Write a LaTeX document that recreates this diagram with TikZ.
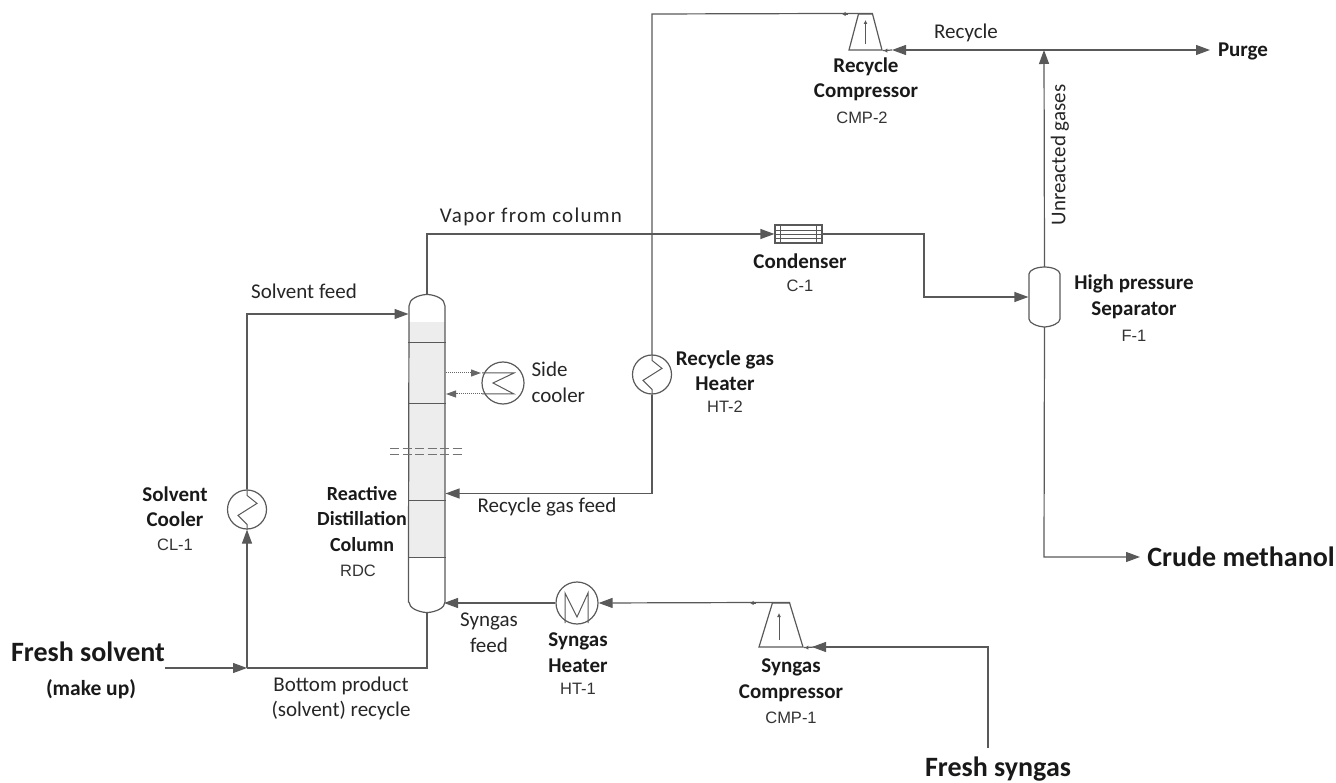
\documentclass[tikz,border=0pt]{standalone}
\usepackage{fontspec}
\setmainfont{Carlito}
\newfontfamily\tagfont{Liberation Sans}
\usetikzlibrary{arrows.meta,shapes.geometric}
\begin{document}
\begin{tikzpicture}[x=1pt,y=-1pt,line width=1.2pt,
lab/.style={font=\fontsize{21}{25.5}\selectfont,align=center,inner sep=0pt,text=black!85},
unit/.style={font=\fontsize{21}{25.5}\selectfont\bfseries,align=center,inner sep=0pt,text=black!90},
tag/.style={font=\tagfont\fontsize{16.5}{20}\selectfont,inner sep=0pt,text=black!80},
big/.style={font=\fontsize{28}{30}\selectfont\bfseries,inner sep=0pt,text=black!90},
hx/.style={draw=black!65,circle,minimum size=39pt,inner sep=0pt},
cmp/.style={draw=black!65,trapezium,trapezium stretches=true,inner sep=1pt},
coil/.style={draw=black!65,line width=1pt},
pipe/.style={draw=black!65},
arr/.style={pipe,-{Triangle[length=14pt,width=10pt]}},
side/.style={draw=black!60,densely dotted,line width=1pt,-{Triangle[length=10pt,width=7pt]}},
nib/.style={draw=black!65,-{Latex[length=3.5pt,width=4.5pt]}}]
\useasboundingbox (0,0) rectangle (1336,783);
% column
\node[minimum width=36pt,minimum height=317pt,inner sep=0pt] (rdc) at (427,453.5) {};
\fill[black!7] (409,322) rectangle (445,557);
\draw[pipe] (rdc.south west) ++(0,-10) -- (409,306) .. controls (409,299) and (418,295) .. (rdc.north) .. controls (436,295) and (445,299) .. (445,306) -- (445,602) .. controls (445,608) and (436,612) .. (rdc.south) .. controls (418,612) and (409,608) .. (409,602);
\foreach \trayy in {343,404,500,557} \draw[pipe,line width=1pt] (408,\trayy) -- (446,\trayy);
\foreach \cuty in {448,454} \draw[black!55,dash pattern=on 9pt off 3.5pt,line width=1pt] (390,\cuty) -- (464,\cuty);
% equipment
\node[hx,minimum size=42pt] (sc) at (503,383) {};
\node[hx] (ht2) at (652,374.5) {};
\node[hx] (cl1) at (247,509.5) {};
\node[hx,minimum size=42pt] (ht1) at (577,603) {};
\node[cmp,minimum width=33pt,minimum height=36pt,trapezium angle=56] (cmp2) at (865.5,32) {};
\node[cmp,minimum width=44pt,minimum height=44pt,trapezium angle=52] (cmp1) at (781,625) {};
\node[draw=black!65,minimum width=47pt,minimum height=18pt,inner sep=0pt] (c1) at (798.5,234) {};
\foreach \tubey in {-4,0,4} \draw[coil,line width=.7pt] ([yshift=\tubey]c1.west) -- ([yshift=\tubey]c1.east);
\draw[coil] ([xshift=6pt]c1.north west) -- ([xshift=6pt]c1.south west) ([xshift=-6pt]c1.north east) -- ([xshift=-6pt]c1.south east);
\node[minimum width=31pt,minimum height=59pt,inner sep=0pt] (f1) at (1044.5,297) {};
\draw[pipe] (1029,274) .. controls (1029,270) and (1037,267) .. (f1.north) .. controls (1052,267) and (1060,270) .. (1060,274) -- (1060,319) .. controls (1060,323) and (1052,326.5) .. (f1.south) .. controls (1037,326.5) and (1029,323) .. (1029,319) -- cycle;
% coils
\draw[coil] (sc.center) ++(-21,-10) -- ++(32,0) -- ++(-21,10) -- ++(21,11) -- ++(-32,0);
\draw[coil] (ht2.north) -- ++(0,6) -- ++(10,8) -- ++(-19,12) -- ++(9,9) -- (ht2.south);
\draw[coil] (cl1.north) -- ++(0,6) -- ++(10,8) -- ++(-19,12) -- ++(9,9) -- (cl1.south);
\draw[coil] (ht1.center) ++(-12,20) -- ++(0,-30) -- ++(12,24) -- ++(11,-24) -- ++(0,30);
\draw[coil,-{Latex[length=4pt,width=4pt]}] (cmp2.center) ++(0,12) -- ++(0,-24);
\draw[coil,-{Latex[length=4pt,width=4pt]}] (cmp1.center) ++(-2,15) -- ++(0,-27);
% text
\node[lab] (solfeed) at (304,291) {Solvent feed};
\node[lab,font=\fontsize{21}{25.5}\selectfont\addfontfeature{LetterSpace=6}] (vapor) at (531,217) {Vapor from column};
\node[lab,align=left,anchor=west] (sidec) at (531,382.5) {Side\\cooler};
\node[lab] (rgfeed) at (547,507) {Recycle gas feed};
\node[lab] (sgfeed) at (489,633) {Syngas\\feed};
\node[lab] (botprod) at (341,698.5) {Bottom product\\(solvent) recycle};
\node[lab] (rec) at (966,33) {Recycle};
\node[lab,rotate=90] (unreac) at (1060,155) {Unreacted gases};
\node[unit] (ncl1) at (175,506.5) {Solvent\\Cooler};
\node[tag] (tcl1) at (175,545) {CL-1};
\node[unit,font=\fontsize{20}{25.5}\selectfont\bfseries] (nrdc) at (362,519) {Reactive\\Distillation\\Column};
\node[tag] (trdc) at (358,571) {RDC};
\node[unit] (nht2) at (725,370.5) {Recycle gas\\Heater};
\node[tag] (tht2) at (725,407) {HT-2};
\node[unit] (nc1) at (800,261) {Condenser};
\node[tag] (tc1) at (800,286) {C-1};
\node[unit] (nf1) at (1134,297) {High pressure\\Separator};
\node[tag] (tf1) at (1134,336) {F-1};
\node[unit] (ncmp2) at (866,79.5) {Recycle\\Compressor};
\node[tag] (tcmp2) at (862,118) {CMP-2};
\node[unit] (nht1) at (578,652.5) {Syngas\\Heater};
\node[tag] (tht1) at (578,689) {HT-1};
\node[unit] (ncmp1) at (791,680.5) {Syngas\\Compressor};
\node[tag] (tcmp1) at (791,718) {CMP-1};
\node[unit] (purge) at (1243,51) {Purge};
\node[big] (crude) at (1241,557) {Crude methanol};
\node[big] (fsol) at (88,652) {Fresh solvent};
\node[unit,font=\fontsize{21.5}{25}\selectfont\bfseries] (makeup) at (91,689) {(make up)};
\node[big] (fsyn) at (998,769) {Fresh syngas};
\coordinate (solin) at (165,668);
\coordinate (solj) at (247,668);
\coordinate (unj) at (1044,50);
\coordinate (syntop) at (988,748);
% streams
\draw[arr] (rdc.north) -- (427,234) -- (c1.west);
\draw[arr] (c1.east) -- (924,234) -- (924,297) -- (f1.west);
\draw[arr] (f1.north) -- (unj);
\draw[arr] (unj) -- (1210,50);
\draw[arr] (unj) -- (892,50);
\draw[pipe] (892,50) -- (cmp2.bottom right corner);
\draw[nib] (cmp2.bottom right corner) ++(4,0) -- ++(-3,0);
\draw[pipe] (cmp2.top right corner) -- (652,14) -- (ht2.north);
\draw[nib] (848,14) -- (842,14);
\draw[arr] (ht2.south) -- (652,493.5) -- (445.5,493.5);
\draw[arr] (f1.south) -- (1044,557) -- (1140,557);
\draw[arr] (syntop) -- (988,647) -- (812,647);
\draw[pipe] (815,647) -- (cmp1.bottom right corner);
\draw[nib] (cmp1.bottom right corner) ++(4,0) -- ++(-3,0);
\draw[arr] (cmp1.top right corner) -- (ht1.east);
\draw[nib] (756,603) -- (750,603);
\draw[arr] (ht1.west) -- (444,603);
\draw[pipe] (rdc.south) -- (427,668) -- (solj);
\draw[arr] (solin) -- (solj);
\draw[arr] (solj) -- (cl1.south);
\draw[arr] (cl1.north) -- (247,314) -- (408.5,314);
\draw[side] (446,373) -- (481,373);
\draw[side] (482,394) -- (446,394);
\end{tikzpicture}
\end{document}
